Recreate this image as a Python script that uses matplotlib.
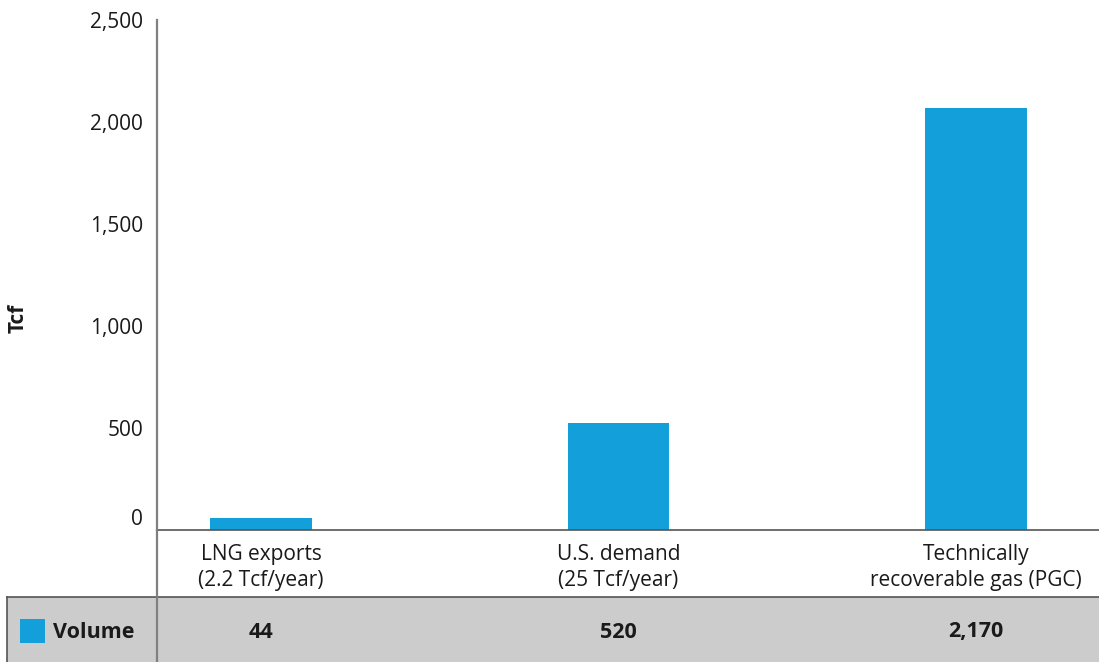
import matplotlib.pyplot as plt
from matplotlib import transforms
from matplotlib.lines import Line2D
from matplotlib.patches import Rectangle

plt.rcParams['font.family'] = ['Open Sans', 'DejaVu Sans']

categories = ['LNG exports\n(2.2 Tcf/year)', 'U.S. demand\n(25 Tcf/year)',
              'Technically\nrecoverable gas (PGC)']
bar_heights = [59, 525, 2068]   # as drawn in the picture
table_values = ['44', '520', '2,170']
yticks = [0, 500, 1000, 1500, 2000, 2500]
ytick_labels = ['0', '500', '1,000', '1,500', '2,000', '2,500']

W, H = 1099, 662
blue = '#129fda'
txt = '#1a1a1a'


def fx(px):
    return px / W


def fy(py):
    return 1 - py / H


fig = plt.figure(figsize=(W / 100, H / 100), dpi=100)
ax = fig.add_axes([fx(157), fy(530), fx(W - 157), fy(20) - fy(530)])

x = list(range(len(categories)))
ax.bar(x, bar_heights, width=0.285, color=blue, zorder=2)

ax.set_xlim(-0.291, 2.344)
ax.set_ylim(0, 2500)
ax.set_yticks(yticks)
ax.set_yticklabels(ytick_labels)
ax.set_xticks(x)
ax.set_xticklabels(categories, linespacing=1.3)
ax.tick_params(axis='both', length=0, labelsize=15, labelcolor=txt)
ax.tick_params(axis='y', pad=10)
ax.tick_params(axis='x', pad=10)

# shift the 0 label up a bit like the original
zero = ax.get_yticklabels()[0]
zero.set_transform(zero.get_transform() +
                   transforms.ScaledTranslation(0, 13 / 100, fig.dpi_scale_trans))

for s in ['top', 'right']:
    ax.spines[s].set_visible(False)
ax.spines['left'].set_color('#808080')
ax.spines['left'].set_linewidth(1.6)
ax.spines['bottom'].set_color('#555555')
ax.spines['bottom'].set_linewidth(1.2)

fig.text(fx(18), fy(318), 'Tcf', rotation=90, ha='center', va='center',
         fontsize=15, fontweight='bold', color=txt)

# data table underneath
fig.add_artist(Rectangle((fx(7), 0), fx(W - 7), fy(597), transform=fig.transFigure,
                         facecolor='#cccccc', edgecolor='none', zorder=0))
fig.add_artist(Line2D([fx(7), 1], [fy(597), fy(597)], transform=fig.transFigure,
                      color='#555555', lw=1.2))
fig.add_artist(Line2D([fx(7), fx(7)], [0, fy(597)], transform=fig.transFigure,
                      color='#555555', lw=1.2))
fig.add_artist(Line2D([fx(157), fx(157)], [0, fy(530)], transform=fig.transFigure,
                      color='#808080', lw=1.6))

fig.add_artist(Rectangle((fx(20), fy(643)), fx(25), fy(619) - fy(643),
                         transform=fig.transFigure, facecolor=blue, edgecolor='none'))
fig.text(fx(53), fy(632), 'Volume', ha='left', va='center', fontsize=15.5,
         fontweight='bold', color=txt)

tr = transforms.blended_transform_factory(ax.transData, fig.transFigure)
for xi, v in zip(x, table_values):
    fig.text(xi, fy(632), v, transform=tr, ha='center', va='center',
             fontsize=15.5, fontweight='bold', color=txt)

fig.savefig('out.png', dpi=100)
